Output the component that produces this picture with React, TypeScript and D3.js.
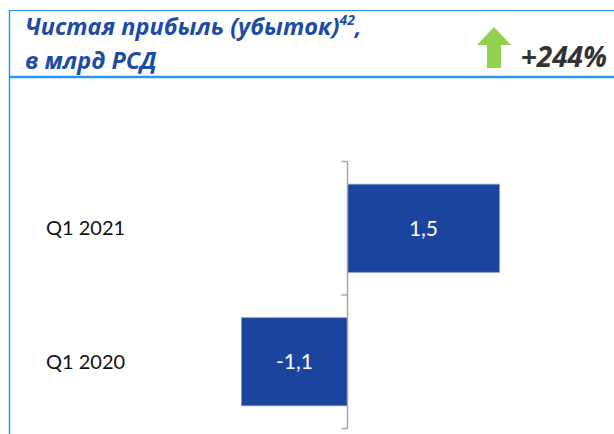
import * as d3 from 'd3';
import React, { FC, useEffect } from 'react';

const categories = ['Q1 2021', 'Q1 2020'];
const values = [1.52, -1.06];
const valueLabels = ['1,5', '-1,1'];
const titleLines = ['Чистая прибыль (убыток)', 'в млрд РСД'];
const titleNote = '42';
const changeLabel = '+244%';

const App: FC = () => {
	const containerDiv = React.useRef<HTMLDivElement>(null);
	const { width, height } = { width: 614, height: 434 };
	const font = 'Lato, "Open Sans", sans-serif';
	const titleFont = '"Open Sans", sans-serif';

	const initializeChart = () => {
		const svg = d3
			.create('svg')
			.attr('width', width)
			.attr('height', height)
			.attr('viewBox', `0 0 ${width} ${height}`)
			.style('display', 'block')
			.style('font-family', font);

		svg.append('rect').attr('width', width).attr('height', height).attr('fill', '#fff');

		// frame
		const frame = svg.append('g').attr('stroke', '#2E95EE').attr('fill', 'none');
		frame.append('line').attr('x1', 9).attr('x2', width).attr('y1', 10.5).attr('y2', 10.5).attr('stroke-width', 1);
		frame.append('line').attr('x1', 9.5).attr('x2', 9.5).attr('y1', 10).attr('y2', height).attr('stroke-width', 1.5);
		frame.append('line').attr('x1', 9).attr('x2', width).attr('y1', 77).attr('y2', 77).attr('stroke-width', 2.5);

		// title
		const title = svg
			.append('text')
			.attr('fill', '#1D4CA3')
			.attr('font-family', titleFont)
			.attr('font-weight', 'bold')
			.attr('font-style', 'italic')
			.attr('font-size', 23.5);
		const t1 = title.append('tspan').attr('x', 25).attr('y', 34.5);
		t1.append('tspan').text(titleLines[0]);
		t1.append('tspan').attr('dy', -10).attr('font-size', 14).text(titleNote);
		t1.append('tspan').attr('dy', 10).text(',');
		title.append('tspan').attr('x', 25).attr('y', 68.5).text(titleLines[1]);

		// arrow
		svg.append('path')
			.attr('d', 'M494,27 L511,45 L501,45 L501,68 L487,68 L487,45 L477,45 Z')
			.attr('fill', '#92D050');
		svg.append('text')
			.attr('x', 607)
			.attr('y', 67)
			.attr('text-anchor', 'end')
			.attr('fill', '#333')
			.attr('font-family', titleFont)
			.attr('font-weight', 'bold')
			.attr('font-style', 'italic')
			.attr('font-size', 28)
			.text(changeLabel);

		// scales
		const x = d3.scaleLinear().domain([0, 1]).range([347.5, 447.5]);
		const y = d3
			.scaleBand()
			.domain(categories)
			.range([161.5, 428.5])
			.paddingInner(0.34)
			.paddingOuter(0.17);
		const step = y.step();
		const bandEdges = [y.range()[0], ...categories.map(c => (y(c) as number) - (step - y.bandwidth()) / 2 + step)];

		svg.append('g')
			.selectAll('rect')
			.data(values)
			.join('rect')
			.attr('x', d => x(Math.min(0, d)))
			.attr('y', (d, i) => y(categories[i]) as number)
			.attr('width', d => Math.abs(x(d) - x(0)))
			.attr('height', y.bandwidth())
			.attr('fill', '#1A449E')
			.attr('stroke', '#7E98CF')
			.attr('stroke-width', 0.8);

		svg.append('g')
			.attr('fill', '#fff')
			.attr('text-anchor', 'middle')
			.attr('font-size', 21)
			.selectAll('text')
			.data(values)
			.join('text')
			.attr('x', d => (x(d) + x(0)) / 2)
			.attr('y', (d, i) => (y(categories[i]) as number) + y.bandwidth() / 2)
			.attr('dy', '0.35em')
			.text((d, i) => valueLabels[i]);

		// axis
		const axis = svg.append('g').attr('stroke', '#A6A6A6').attr('stroke-width', 1.5).attr('fill', 'none');
		axis.append('line').attr('x1', x(0)).attr('x2', x(0)).attr('y1', y.range()[0]).attr('y2', y.range()[1]);
		axis.selectAll('line.tick')
			.data(bandEdges)
			.join('line')
			.attr('class', 'tick')
			.attr('x1', x(0) - 6)
			.attr('x2', x(0))
			.attr('y1', d => d)
			.attr('y2', d => d);

		svg.append('g')
			.attr('fill', '#111')
			.attr('font-size', 20)
			.selectAll('text')
			.data(categories)
			.join('text')
			.attr('x', 46)
			.attr('y', d => (y(d) as number) + y.bandwidth() / 2)
			.attr('dy', '0.35em')
			.text(d => d);

		return svg.node();
	};

	useEffect(() => {
		const chart = initializeChart();
		const container: HTMLDivElement = containerDiv.current as HTMLDivElement;
		if (container && chart) {
			container.firstChild && container.removeChild(container.firstChild);
			container.appendChild(chart);
		}
	}, []);

	return <div ref={containerDiv} style={{ position: 'absolute', left: 0, top: 0 }}></div>;
};

export default App;
